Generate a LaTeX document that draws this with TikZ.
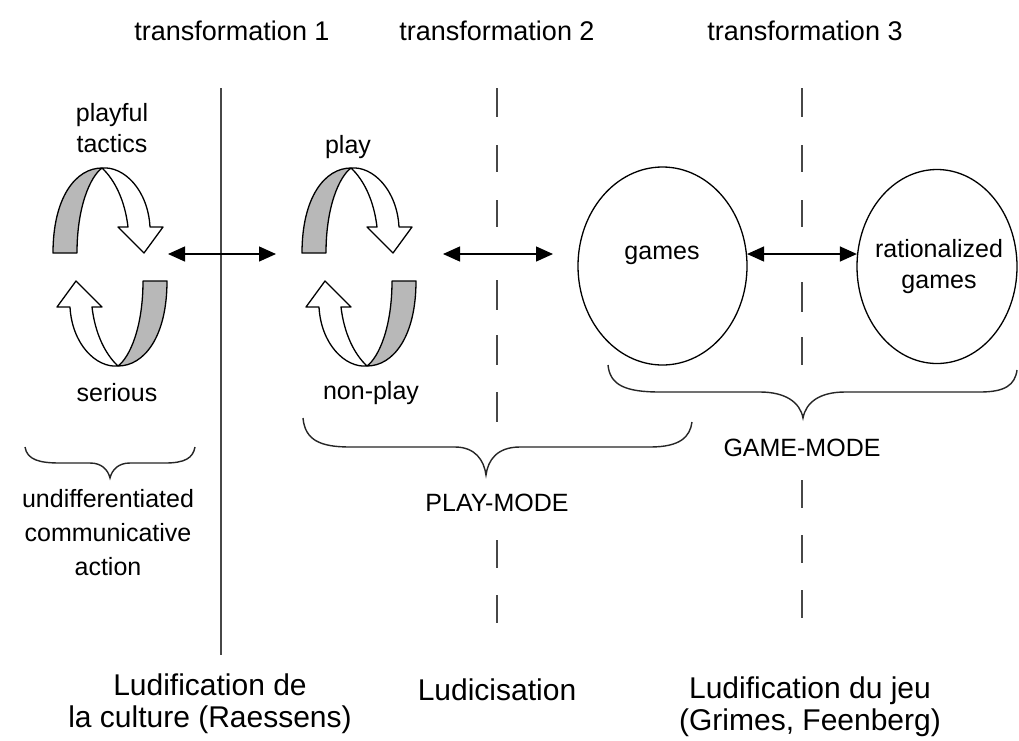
\documentclass[tikz,border=0pt]{standalone}
\usepackage{fontspec}
\setmainfont{Liberation Sans}
\usetikzlibrary{shapes.geometric,arrows.meta}
\tikzset{
 band/.style={draw=black, line width=1.3pt, line join=round},
 grayband/.style={band, fill=black!28},
 whiteband/.style={band, fill=white},
 dbl/.style={{Triangle[length=17pt,width=15pt]}-{Triangle[length=17pt,width=15pt]}, line width=1.3pt},
 sep/.style={draw=black!72, line width=1.8pt},
 brace/.style={draw=black!85, line width=1.4pt},
 oval/.style={ellipse, draw, line width=1.3pt, inner sep=0pt},
 lbl/.style={font=\fontsize{25}{31}\selectfont, align=center, inner sep=0pt},
 ttl/.style={font=\fontsize{27}{30}\selectfont, inner sep=0pt},
 bot/.style={font=\fontsize{30}{32}\selectfont, align=center, inner sep=0pt},
 pics/cyc/.style={code={
   \foreach \r in {0,180}{
    \begin{scope}[rotate=\r]
     \path[grayband] (-57,-14) .. controls (-57,-70) and (-34,-99) .. (-8,-99) .. controls (-20,-90) and (-33,-60) .. (-33,-14) -- cycle;
     \path[whiteband] (-8,-99) .. controls (14,-101) and (38,-77) .. (40,-40) -- (53,-40) -- (34,-14) -- (8,-40) -- (18,-40) .. controls (15,-66) and (5,-87) .. (-8,-99) -- cycle;
    \end{scope}}
 }}
}
\begin{document}
\begin{tikzpicture}[x=1pt,y=-1pt]
\useasboundingbox[fill=white] (0,0) rectangle (1019,740);

% titles
\node[ttl] (t1) at (232,31) {transformation 1};
\node[ttl] (t2) at (497,31) {transformation 2};
\node[ttl] (t3) at (805,31) {transformation 3};

% separators
\draw[sep] (221,88) -- (221,655);
\foreach \a/\b in {88/117,145/172,200/227,280/310,335/365,392/422,540/568,595/623}
  \draw[sep] (497,\a) -- (497,\b);
\foreach \a/\b in {88/117,145/172,200/227,282/312,337/365,480/508,535/563,590/618}
  \draw[sep] (802,\a) -- (802,\b);

% cycles
\pic (cy1) at (110,267) {cyc};
\pic (cy2) at (359,267) {cyc};
\coordinate (c1r) at (168,254);
\coordinate (c2l) at (276,254);
\coordinate (c2r) at (443,254);
\coordinate (gw) at (553,254);

\node[lbl] (pt) at (112,128) {playful\\tactics};
\node[lbl] (ser) at (117,393) {serious};
\node[lbl] (pl) at (348,147) {play};
\node[lbl] (np) at (371,393) {non-play};

% ellipses
\node[oval, minimum width=169pt, minimum height=198pt] (games) at (662.5,266) {};
\node[oval, minimum width=160pt, minimum height=194pt] (rat) at (937,266.5) {};
\node[lbl] (gt) at (662,255) {games};
\node[lbl] (rt) at (939,267) {rationalized\\games};
\coordinate (ge) at (games.8 |- c1r);
\coordinate (rw) at (rat.172 |- c1r);

% arrows
\draw[dbl] (c1r) -- (c2l);
\draw[dbl] (c2r) -- (gw);
\draw[dbl] (ge) -- (rw);

% braces
\draw[brace] (25,447) .. controls (27,460) and (40,463) .. (60,463) -- (90,463) .. controls (102,463) and (108,470) .. (110,478) .. controls (112,470) and (118,463) .. (130,463) -- (165,463) .. controls (185,463) and (193,458) .. (195,447);
\draw[brace] (303,418) .. controls (305,440) and (320,447) .. (350,447) -- (455,447) .. controls (475,447) and (484,460) .. (486,475) .. controls (488,460) and (497,447) .. (520,447) -- (650,447) .. controls (680,447) and (690,437) .. (692,422);
\draw[brace] (608,365) .. controls (610,385) and (625,392) .. (660,392) -- (760,392) .. controls (785,392) and (800,402) .. (803,418) .. controls (806,402) and (820,392) .. (845,392) -- (980,392) .. controls (1005,392) and (1015,385) .. (1017,370);

\node[lbl, font=\fontsize{25}{34}\selectfont] (und) at (108,533) {undifferentiated\\communicative\\action};
\node[lbl] (pm) at (497,503) {PLAY-MODE};
\node[lbl] (gm) at (802,448) {GAME-MODE};

% bottom labels
\node[bot] (b1) at (210,704) {Ludification de\\la culture (Raessens)};
\node[bot] (b2) at (497,690) {Ludicisation};
\node[bot] (b3) at (810,707) {Ludification du jeu\\(Grimes, Feenberg)};
\end{tikzpicture}
\end{document}
